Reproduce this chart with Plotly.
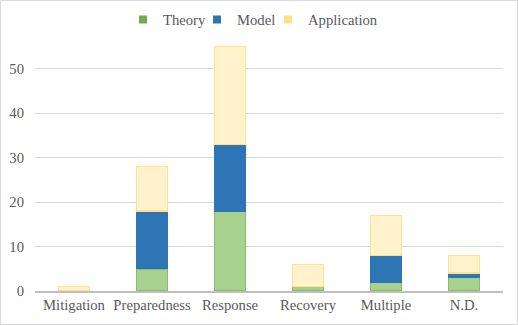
import plotly.graph_objects as go

categories = ["Mitigation", "Preparedness", "Response", "Recovery", "Multiple", "N.D."]
theory = [0, 5, 18, 1, 2, 3]
model = [0, 13, 15, 0, 6, 1]
application = [1, 10, 22, 5, 9, 4]
y_ticks = [0, 10, 20, 30, 40, 50]

series_names = ["Theory", "Model", "Application"]
fill_colors = ["#a9d18e", "#2e75b6", "#fff2cc"]
edge_colors = ["#8ab86c", "#2e75b6", "#ffe28a"]
legend_colors = ["#70ad47", "#2e75b6", "#ffe083"]
legend_widths = [29, 26, 70]

W, H = 518, 325
ml, mr, mt, mb = 35, 15, 40, 34

fig = go.Figure()
for name, vals, fc, ec in zip(series_names, [theory, model, application], fill_colors, edge_colors):
    fig.add_trace(go.Bar(name=name, x=categories, y=vals, showlegend=False, legendgroup=name,
                         marker=dict(color=fc, line=dict(color=ec, width=1.5 if fc != "#2e75b6" else 1))))
for name, lc, lw in zip(series_names, legend_colors, legend_widths):
    fig.add_trace(go.Scatter(name=name, x=[None], y=[None], mode="markers", legendgroup=name,
                             legendwidth=lw,
                             marker=dict(symbol="square", size=8, color=lc)))

pw = W - ml - mr
ph = H - mt - mb
fig.add_shape(type="rect", xref="paper", yref="paper",
              x0=(0.5 - ml) / pw, x1=(W - 0.5 - ml) / pw,
              y0=-(mb - 0.5) / ph, y1=(mt - 0.5) / ph + 1,
              line=dict(color="#d9d9d9", width=1), fillcolor="rgba(0,0,0,0)", layer="below")

fig.update_layout(
    barmode="stack",
    bargap=0.6,
    width=W, height=H,
    margin=dict(l=ml, r=mr, t=mt, b=mb, autoexpand=False),
    paper_bgcolor="white", plot_bgcolor="white",
    font=dict(family="Liberation Serif, Times New Roman, serif", size=14.67, color="#595959"),
    legend=dict(orientation="h", x=0.5 - 6 / W, xanchor="center", xref="container",
                y=1 - 20 / H, yanchor="middle", yref="container",
                bgcolor="rgba(0,0,0,0)",
                font=dict(size=14.67), itemwidth=30, traceorder="normal"),
    xaxis=dict(showgrid=False, showline=True, linecolor="#bfbfbf", linewidth=1.5,
               ticks="", tickfont=dict(size=14.67), automargin=False),
    yaxis=dict(range=[0, 56.5], tickvals=y_ticks, showgrid=True, gridcolor="#d9d9d9",
               gridwidth=1, zeroline=False, showline=False, ticks="", automargin=False,
               tickfont=dict(size=14.67), ticklabelstandoff=10),
)
fig.write_html("out.html", config={"displayModeBar": False},
               post_script="document.body.style.margin='0';document.body.style.padding='0';")
